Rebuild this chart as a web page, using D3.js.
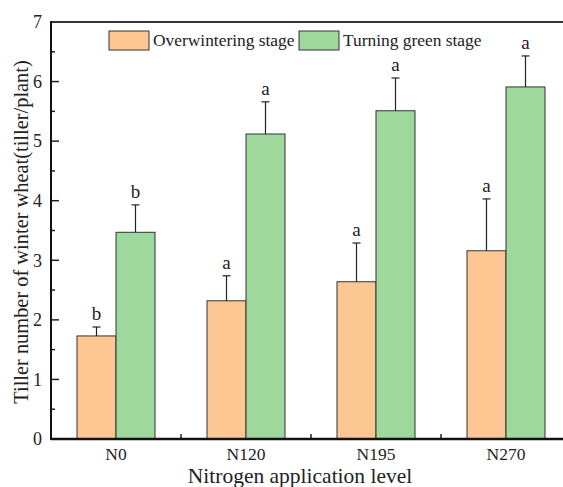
<!DOCTYPE html>
<html>
<head>
<meta charset="utf-8">
<script src="https://cdn.jsdelivr.net/npm/d3@7"></script>
<style>
  body { margin: 0; background: #fff; }
  text { font-family: "Liberation Serif", "Times New Roman", serif; fill: #222; }
</style>
</head>
<body>
<div id="chart"></div>
<script>
const levels = ['N0', 'N120', 'N195', 'N270'];
const stages = ['Overwintering stage', 'Turning green stage'];
const overwinter = [1.73, 2.32, 2.64, 3.16];
const overwinterErr = [0.15, 0.42, 0.65, 0.87];
const overwinterSig = ['b', 'a', 'a', 'a'];
const turning = [3.47, 5.12, 5.51, 5.91];
const turningErr = [0.46, 0.54, 0.55, 0.52];
const turningSig = ['b', 'a', 'a', 'a'];
const yTicks = [0, 1, 2, 3, 4, 5, 6, 7];

const w = 563;
const h = 487;
const pLeft = 51, pTop = 22, pRight = 571, pBottom = 439;
const serif = '"Liberation Serif", "Times New Roman", serif';
const colors = ['#fdc794', '#9ed89c'];

const rows = levels.map((lv, i) => ({
  level: lv,
  vals: [
    { s: 0, v: overwinter[i], e: overwinterErr[i], sig: overwinterSig[i] },
    { s: 1, v: turning[i], e: turningErr[i], sig: turningSig[i] }
  ]
}));

const svg = d3.select('#chart')
  .append('svg')
  .attr('width', w)
  .attr('height', h)
  .attr('font-family', serif);

const xScale = d3.scaleBand()
  .domain(levels)
  .range([pLeft, pRight])
  .paddingInner(0)
  .paddingOuter(0);

const inner = d3.scaleBand()
  .domain([0, 1])
  .range([26, xScale.bandwidth() - 26]);

const yScale = d3.scaleLinear()
  .domain([0, 7])
  .range([pBottom, pTop]);

// bars
const groups = svg.selectAll('g.grp')
  .data(rows)
  .enter()
  .append('g')
  .attr('class', 'grp')
  .attr('transform', d => 'translate(' + xScale(d.level) + ',0)');

groups.selectAll('rect')
  .data(d => d.vals)
  .enter()
  .append('rect')
  .attr('x', d => inner(d.s))
  .attr('y', d => yScale(d.v))
  .attr('width', inner.bandwidth())
  .attr('height', d => yScale(0) - yScale(d.v))
  .style('fill', d => colors[d.s])
  .style('stroke', '#333')
  .style('stroke-width', 1);

// error bars
groups.selectAll('line.err')
  .data(d => d.vals)
  .enter()
  .append('line')
  .attr('class', 'err')
  .attr('x1', d => inner(d.s) + inner.bandwidth() / 2)
  .attr('x2', d => inner(d.s) + inner.bandwidth() / 2)
  .attr('y1', d => yScale(d.v))
  .attr('y2', d => yScale(d.v + d.e))
  .style('stroke', '#222')
  .style('stroke-width', 1.2);

groups.selectAll('line.cap')
  .data(d => d.vals)
  .enter()
  .append('line')
  .attr('class', 'cap')
  .attr('x1', d => inner(d.s) + inner.bandwidth() / 2 - 4)
  .attr('x2', d => inner(d.s) + inner.bandwidth() / 2 + 4)
  .attr('y1', d => yScale(d.v + d.e))
  .attr('y2', d => yScale(d.v + d.e))
  .style('stroke', '#222')
  .style('stroke-width', 1.2);

groups.selectAll('text.sig')
  .data(d => d.vals)
  .enter()
  .append('text')
  .attr('class', 'sig')
  .attr('x', d => inner(d.s) + inner.bandwidth() / 2)
  .attr('y', d => yScale(d.v + d.e) - 7)
  .attr('text-anchor', 'middle')
  .style('font-size', '19px')
  .text(d => d.sig);

// axes
const yAxis = d3.axisLeft(yScale).tickValues(yTicks).tickFormat(d3.format('d')).tickSize(0).tickPadding(9);
const gy = svg.append('g')
  .attr('transform', 'translate(' + pLeft + ',0)')
  .call(yAxis)
  .attr('font-family', serif)
  .attr('font-size', 18);
gy.select('.domain').remove();
gy.selectAll('text').attr('fill', '#222');

const yMajor = d3.range(0, 7.01, 1);
const yMinor = d3.range(0.5, 7, 1);
svg.selectAll('line.ymaj')
  .data(yMajor)
  .enter()
  .append('line')
  .attr('x1', pLeft).attr('x2', pLeft + 8)
  .attr('y1', d => yScale(d)).attr('y2', d => yScale(d))
  .style('stroke', '#222').style('stroke-width', 1.5);
svg.selectAll('line.ymin')
  .data(yMinor)
  .enter()
  .append('line')
  .attr('x1', pLeft).attr('x2', pLeft + 4)
  .attr('y1', d => yScale(d)).attr('y2', d => yScale(d))
  .style('stroke', '#222').style('stroke-width', 1.5);

const xAxis = d3.axisBottom(xScale).tickSize(0).tickPadding(9);
const gx = svg.append('g')
  .attr('transform', 'translate(0,' + pBottom + ')')
  .call(xAxis)
  .attr('font-family', serif)
  .attr('font-size', 17.5);
gx.select('.domain').remove();
gx.selectAll('text').attr('fill', '#222');

svg.selectAll('line.xsep')
  .data(levels.slice(1))
  .enter()
  .append('line')
  .attr('x1', d => xScale(d)).attr('x2', d => xScale(d))
  .attr('y1', pBottom).attr('y2', pBottom - 5)
  .style('stroke', '#222').style('stroke-width', 1.5);

// frame
svg.append('line')
  .attr('x1', pLeft).attr('x2', pRight)
  .attr('y1', pTop).attr('y2', pTop)
  .style('stroke', '#333').style('stroke-width', 2);
svg.append('line')
  .attr('x1', pLeft).attr('x2', pRight)
  .attr('y1', pBottom).attr('y2', pBottom)
  .style('stroke', '#111').style('stroke-width', 2.5);
svg.append('line')
  .attr('x1', pLeft).attr('x2', pLeft)
  .attr('y1', pTop - 1).attr('y2', pBottom + 1)
  .style('stroke', '#111').style('stroke-width', 2);

// legend
const legendX = [109, 299];
const leg = svg.selectAll('g.leg')
  .data(stages)
  .enter()
  .append('g')
  .attr('class', 'leg')
  .attr('transform', (d, i) => 'translate(' + legendX[i] + ',31)');
leg.append('rect')
  .attr('width', 40).attr('height', 19)
  .style('fill', (d, i) => colors[i])
  .style('stroke', '#333').style('stroke-width', 1);
leg.append('text')
  .attr('x', 44).attr('y', 15)
  .style('font-size', '17.4px')
  .text(d => d);

// axis titles
svg.append('text')
  .attr('transform', 'translate(28,232) rotate(-90)')
  .attr('text-anchor', 'middle')
  .style('font-size', '20.4px')
  .text('Tiller number of winter wheat(tiller/plant)');

svg.append('text')
  .attr('x', 300)
  .attr('y', 483)
  .attr('text-anchor', 'middle')
  .style('font-size', '21.5px')
  .text('Nitrogen application level');
</script>
</body>
</html>
